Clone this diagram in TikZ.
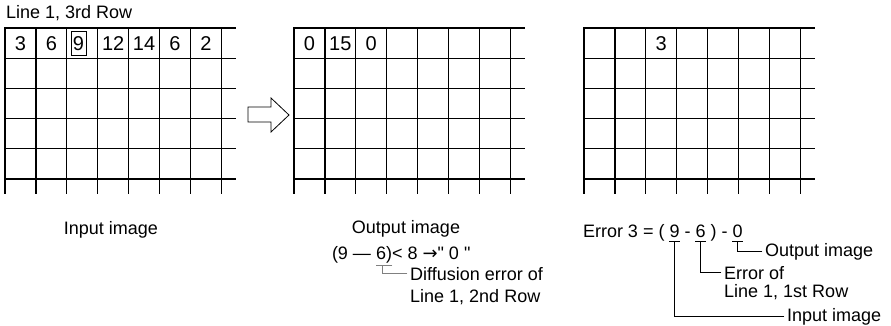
\documentclass[tikz,border=0pt]{standalone}
\usepackage{fontspec}
\setmainfont{Liberation Sans}[Ligatures=TeXOff]
\newfontfamily\arrowfont{DejaVu Sans}

\begin{document}
\begin{tikzpicture}[x=1pt, y=-1pt, line cap=rect,
    font=\fontsize{18}{21}\selectfont,
    gridline/.style={line width=1.3pt},
    cellnum/.style={inner sep=0pt, font=\fontsize{20}{22}\selectfont},
    eqtext/.style={anchor=base west, inner sep=0pt, outer sep=0pt},
    lbl/.style={anchor=base west, inner sep=0pt},
    bracket/.style={line width=0.8pt}]
    \useasboundingbox (0,0) rectangle (891,326);

    % Three grids
    \foreach \gx in {5,294,584} {
        \foreach \i in {0,...,7}
            \draw[gridline] (\gx+\i*30.9, 28) -- (\gx+\i*30.9, 193);
        \foreach \j in {0,...,5}
            \draw[gridline] (\gx, 28+\j*30.2) -- (\gx+230, 28+\j*30.2);
    }

    % Input image values
    \node[lbl] (title) at (6,18.5) {Line 1, 3rd Row};
    \foreach \v/\c in {3/1,6/2,12/4,14/5,6/6,2/7}
        \node[cellnum] (in\c) at (5+\c*30.9-15.45, 43.5) {\v};
    \node[cellnum, draw, line width=1pt, minimum width=15pt, minimum height=24pt] (in3) at (78.5,44) {9};

    % Output image values
    \foreach \v/\c in {0/1,15/2,0/3}
        \node[cellnum] (out\c) at (294+\c*30.9-15.45, 43.5) {\v};

    % Error values
    \node[cellnum] (err3) at (584+2.5*30.9, 43.5) {3};

    % Hollow arrow
    \draw[line width=0.8pt] (248,107) -- (271,107) -- (271,98) -- (289,115)
        -- (271,132) -- (271,122) -- (248,122) -- cycle;

    % Captions
    \node[anchor=base] (incap) at (111,234) {Input image};
    \node[anchor=base] (outcap) at (406,233) {Output image};

    % Output rule
    \node[eqtext] (difA) at (332,259) {(9 — \null};
    \node[eqtext] (dif6) at (difA.base east) {6)};
    \node[eqtext] (difB) at (dif6.base east) {< 8 {\arrowfont →}" 0 "};
    \node[lbl] (difflbl) at (410,280) {Diffusion error of};
    \node[lbl] (difflblb) at (410,302) {Line 1, 2nd Row};
    \draw[bracket, gray] ([yshift=-3pt]dif6.south west) -- ([yshift=-3pt]dif6.south east);
    \draw[bracket, gray] ([yshift=-3pt, xshift=-2pt]dif6.south) |- ([xshift=-3pt]difflbl.west);

    % Error formula
    \node[eqtext] (errA) at (583,237) {Error 3 = ( \null};
    \node[eqtext] (err9) at (errA.base east) {9};
    \node[eqtext] (errB) at (err9.base east) {\ - \null};
    \node[eqtext] (err6) at (errB.base east) {6};
    \node[eqtext] (errC) at (err6.base east) {\ ) - \null};
    \node[eqtext] (err0) at (errC.base east) {0};

    \node[lbl] (outlbl) at (765,256) {Output image};
    \node[lbl] (errlbl) at (724,279) {Error of};
    \node[lbl] (errlblb) at (724,297) {Line 1, 1st Row};
    \node[lbl] (inlbl) at (787,321) {Input image};

    % Underlines and leaders
    \foreach \n in {err9,err6,err0}
        \draw[bracket] ([yshift=-4pt]\n.south west) -- ([yshift=-4pt]\n.south east);
    \draw[bracket] ([yshift=-4pt]err0.south) |- ([xshift=-3pt]outlbl.west);
    \draw[bracket] ([yshift=-4pt]err6.south) |- ([xshift=-3pt]errlbl.west);
    \draw[bracket] ([yshift=-4pt]err9.south) |- ([xshift=-3pt]inlbl.west);
\end{tikzpicture}
\end{document}
